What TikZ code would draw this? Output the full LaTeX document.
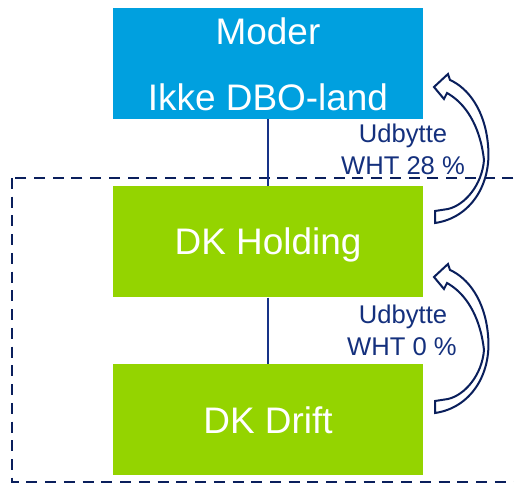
\documentclass[tikz,border=0pt]{standalone}
\usepackage{fontspec}
\setmainfont{Liberation Sans}
\definecolor{modblue}{RGB}{0,160,223}
\definecolor{dkgreen}{RGB}{148,212,0}
\definecolor{navy}{RGB}{10,31,92}
\definecolor{linkblue}{RGB}{22,50,135}
\definecolor{labelblue}{RGB}{20,48,125}
\tikzset{
  entity/.style={minimum width=232.5pt, minimum height=83.3pt, inner sep=0pt, draw=none},
  boxtext/.style={text=white, anchor=base, inner sep=0pt, font=\fontsize{27.7}{33}\selectfont},
  flowlabel/.style={text=labelblue, anchor=base, inner sep=0pt, font=\fontsize{19.2}{23}\selectfont},
  link/.style={draw=linkblue, line width=2pt},
  groupframe/.style={draw=navy, line width=1.7pt, dash pattern=on 8.25pt off 5.8pt},
  arrowline/.style={draw=navy, fill=white, line width=1.5pt, line join=miter},
  returnarrow/.pic={
    \path[arrowline] (0,0)
      .. controls (35,-5) and (57,-38) .. (53,-78)
      .. controls (50,-113) and (33,-135) .. (15,-143)
      -- (13,-149) -- (-1,-136) -- (9,-124) -- (12,-130)
      .. controls (30,-120) and (45,-98) .. (49,-63)
      .. controls (47,-38) and (30,-18) .. (13,-14)
      -- (0,-12) -- cycle;
  }
}
\begin{document}
\begin{tikzpicture}[x=0.75pt, y=-0.75pt]
  \clip (0,0) rectangle (514,484);
  \fill[white] (0,0) rectangle (514,484);

  % Danish group boundary
  \draw[groupframe] (12,178) rectangle (530,482);

  % Entities
  \node[entity, fill=modblue] (moder) at (268,63.5) {};
  \node[entity, fill=dkgreen] (hold) at (268,241.75) {};
  \node[entity, fill=dkgreen] (drift) at (268,419.5) {};

  \node[boxtext] (moderA) at (268,45) {Moder};
  \node[boxtext] (moderB) at (268,111) {Ikke DBO-land};
  \node[boxtext] (holdT) at (268,255) {DK Holding};
  \node[boxtext] (driftT) at (268,433) {DK Drift};

  % Ownership links
  \draw[link] (moder.south) -- (hold.north);
  \draw[link] (hold.south) -- (drift.north);

  % Dividend flows
  \pic at (435,223) {returnarrow};
  \pic at (435,413) {returnarrow};

  \node[flowlabel] (divA) at (403,143) {Udbytte};
  \node[flowlabel] (whtA) at (403,175) {WHT 28 \%};
  \node[flowlabel] (divB) at (403,324) {Udbytte};
  \node[flowlabel] (whtB) at (402,356) {WHT 0 \%};
\end{tikzpicture}
\end{document}
